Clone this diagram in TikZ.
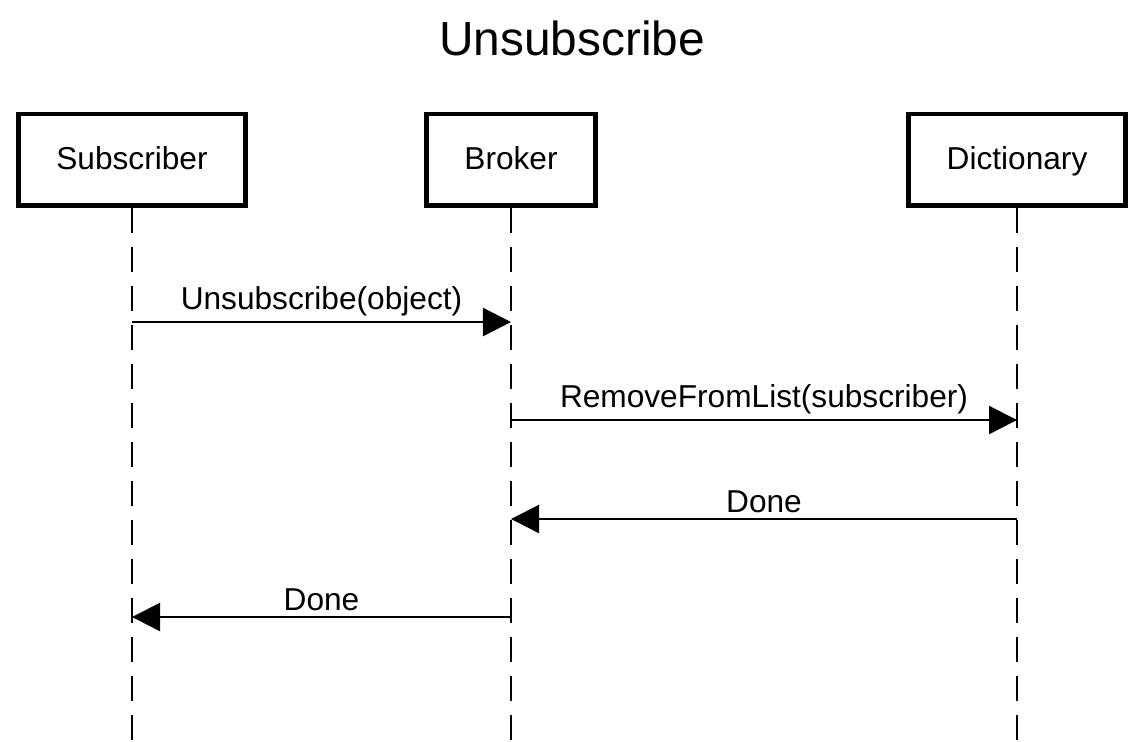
\documentclass[tikz,border=0pt]{standalone}
\usepackage{fontspec}
\setmainfont{Liberation Sans}
\usetikzlibrary{arrows.meta}

\tikzset{
  actorbox/.style={draw, line width=1.4pt, minimum height=0.91cm, inner sep=0pt,
    text height=1.55ex, text depth=0.45ex, font=\fontsize{9pt}{11pt}\selectfont},
  lifeline/.style={line width=0.65pt, dash pattern=on 0.25cm off 0.14cm},
  msg/.style={line width=0.65pt, -{Triangle[length=0.28cm,width=0.28cm]}},
  msglabel/.style={above, inner sep=0pt, yshift=0.05cm, font=\fontsize{9pt}{11pt}\selectfont}
}

\begin{document}
\begin{tikzpicture}[x=0.01cm, y=-0.01cm]
  \useasboundingbox (0,0) rectangle (1143,741);

  \node [font=\fontsize{13.6pt}{16pt}\selectfont] (title) at (572,38) {Unsubscribe};

  % actors
  \node [actorbox, minimum width=2.26cm] (subscriber) at (132,159.5) {Subscriber};
  \node [actorbox, minimum width=1.69cm] (broker) at (511,159.5) {Broker};
  \node [actorbox, minimum width=2.16cm] (dictionary) at (1017,159.5) {Dictionary};

  % lifelines
  \coordinate (subscriber-end) at (132,741);
  \coordinate (broker-end) at (511,741);
  \coordinate (dictionary-end) at (1017,741);
  \draw [lifeline] (subscriber.south) -- (subscriber-end);
  \draw [lifeline] (broker.south) -- (broker-end);
  \draw [lifeline] (dictionary.south) -- (dictionary-end);

  % messages
  \coordinate (s1) at (132,322);
  \coordinate (b1) at (511,322);
  \coordinate (b2) at (511,420);
  \coordinate (d2) at (1017,420);
  \coordinate (d3) at (1017,519);
  \coordinate (b3) at (511,519);
  \coordinate (b4) at (511,617);
  \coordinate (s4) at (132,617);

  \draw [msg] (s1) -- node [msglabel] {Unsubscribe(object)} (b1);
  \draw [msg] (b2) -- node [msglabel] {RemoveFromList(subscriber)} (d2);
  \draw [msg] (d3) -- node [msglabel] {Done} (b3);
  \draw [msg] (b4) -- node [msglabel] {Done} (s4);
\end{tikzpicture}
\end{document}
